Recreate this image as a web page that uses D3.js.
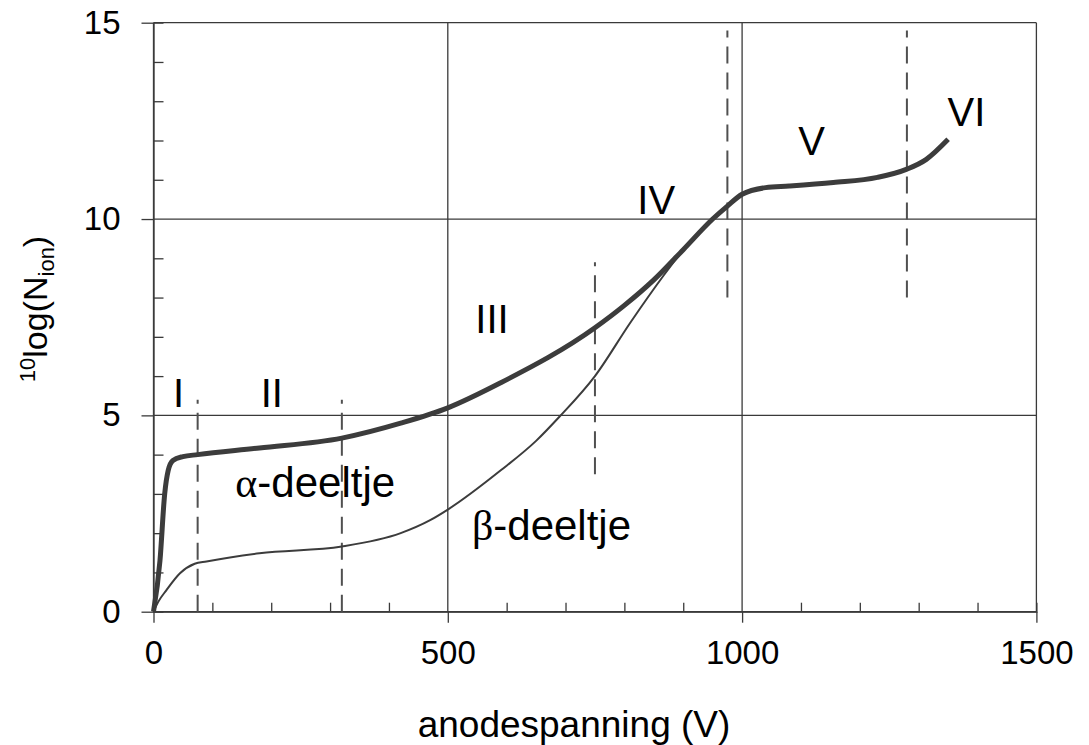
<!DOCTYPE html>
<html>
<head>
<meta charset="utf-8">
<script src="https://cdn.jsdelivr.net/npm/d3@7"></script>
<style>
  html, body { margin: 0; padding: 0; background: #fff; }
  svg { display: block; }
  text { font-family: "Liberation Sans", Arial, sans-serif; fill: #000; }
</style>
</head>
<body>
<svg id="chart" width="1089" height="745"></svg>
<script>
// ---- data ----
const xMajorTicks = [0, 500, 1000, 1500];
const xMinorTicks = [100, 200, 300, 400, 600, 700, 800, 900, 1100, 1200, 1300, 1400];
const yMajorTicks = [0, 5, 10, 15];
const yMinorTicks = [1, 2, 3, 4, 6, 7, 8, 9, 11, 12, 13, 14];

// alpha-particle curve (thick)
const alphaV = [0, 11, 19, 25, 33, 50, 75, 180, 320, 420, 500, 590, 750, 800, 850, 900, 950, 975, 1000, 1040, 1080, 1155, 1230, 1280, 1313, 1350];
const alphaN = [0, 1.3, 3.0, 3.6, 3.85, 3.95, 4.0, 4.17, 4.42, 4.8, 5.19, 5.83, 7.23, 7.8, 8.45, 9.22, 10.0, 10.33, 10.63, 10.8, 10.84, 10.93, 11.06, 11.27, 11.52, 12.03];

// beta-particle curve (thin)
const betaV = [0, 8, 22, 45, 70, 90, 180, 320, 420, 470, 500, 590, 650, 690, 750, 810, 866, 900];
const betaN = [0, 0.25, 0.55, 0.98, 1.22, 1.28, 1.49, 1.66, 2.0, 2.33, 2.6, 3.6, 4.35, 4.97, 6.0, 7.36, 8.55, 9.22];

// region boundaries (dashed): voltage, bottom, top
const boundV = [75, 320, 750, 975, 1280];
const boundLo = [0, 0, 3.5, 8.0, 8.0];
const boundHi = [5.4, 5.4, 8.9, 14.8, 14.8];

// region labels
const regionText = ["I", "II", "III", "IV", "V", "VI"];
const regionV = [42.5, 201, 575, 854, 1118, 1381];
const regionN = [5.22, 5.22, 7.09, 10.12, 11.63, 12.37];

// particle labels
const particleGreek = ["α", "β"];
const particleRest = ["-deeltje", "-deeltje"];
const particleV = [139, 541];
const particleN = [2.93, 1.83];

const xTitle = "anodespanning (V)";

// ---- layout ----
const svg = d3.select("#chart");
const L = 153.5, R = 1036.4, T = 22.7, B = 611.7;
const x = d3.scaleLinear().domain([0, 1500]).range([L, R]);
const y = d3.scaleLinear().domain([0, 15]).range([B, T]);
const gridColor = "#3a3a3a";

// gridlines (major)
svg.append("g").selectAll("line.h").data(yMajorTicks.filter(d => d > 0)).join("line")
  .attr("x1", L).attr("x2", R).attr("y1", d => y(d)).attr("y2", d => y(d))
  .attr("stroke", gridColor).attr("stroke-width", 1.3);
svg.append("g").selectAll("line.v").data(xMajorTicks.filter(d => d > 0)).join("line")
  .attr("y1", T).attr("y2", B).attr("x1", d => x(d)).attr("x2", d => x(d))
  .attr("stroke", gridColor).attr("stroke-width", 1.3);

// axes with major ticks & labels
const yAxis = svg.append("g").attr("transform", `translate(${L},0)`)
  .call(d3.axisLeft(y).tickValues(yMajorTicks).tickSize(12).tickPadding(21).tickFormat(d3.format("d")));
const xAxis = svg.append("g").attr("transform", `translate(0,${B})`)
  .call(d3.axisBottom(x).tickValues(xMajorTicks).tickSize(11).tickPadding(18).tickFormat(d3.format("d")));
// minor ticks inward
svg.append("g").attr("transform", `translate(${L},0)`)
  .call(d3.axisLeft(y).tickValues(yMinorTicks).tickSize(-10).tickFormat(""));
svg.append("g").attr("transform", `translate(0,${B})`)
  .call(d3.axisBottom(x).tickValues(xMinorTicks).tickSize(-9).tickFormat(""));

svg.selectAll(".domain").attr("stroke", gridColor).attr("stroke-width", 1.3);
svg.selectAll(".tick line").attr("stroke", gridColor).attr("stroke-width", 1.3);
svg.selectAll(".tick text").attr("font-size", 33).attr("font-family", "Liberation Sans, Arial, sans-serif").attr("fill", "#000");
yAxis.selectAll(".domain").remove();
xAxis.selectAll(".domain").remove();
svg.append("line").attr("x1", L).attr("x2", L).attr("y1", T).attr("y2", B).attr("stroke", gridColor).attr("stroke-width", 1.3);
svg.append("line").attr("x1", L).attr("x2", R).attr("y1", B).attr("y2", B).attr("stroke", gridColor).attr("stroke-width", 1.6);

// dashed boundaries
svg.append("g").selectAll("line").data(boundV).join("line")
  .attr("x1", d => x(d)).attr("x2", d => x(d))
  .attr("y1", (d, i) => y(boundLo[i])).attr("y2", (d, i) => y(boundHi[i]))
  .attr("stroke", "#505050").attr("stroke-width", 2).attr("stroke-dasharray", "17,9");

// curves
const line = d3.line().x(d => x(d[0])).y(d => y(d[1])).curve(d3.curveMonotoneX);
svg.append("path").datum(betaV.map((v, i) => [v, betaN[i]]))
  .attr("d", line).attr("fill", "none").attr("stroke", "#3c3c3c").attr("stroke-width", 2);
svg.append("path").datum(alphaV.map((v, i) => [v, alphaN[i]]))
  .attr("d", line).attr("fill", "none").attr("stroke", "#3c3c3c").attr("stroke-width", 5)
  .attr("stroke-linecap", "butt").attr("stroke-linejoin", "round");

// region labels
svg.append("g").selectAll("text").data(regionText).join("text")
  .attr("x", (d, i) => x(regionV[i])).attr("y", (d, i) => y(regionN[i]))
  .attr("text-anchor", "middle").attr("font-size", 40).text(d => d);

// particle labels
particleGreek.forEach((g, i) => {
  const t = svg.append("text").attr("x", x(particleV[i])).attr("y", y(particleN[i])).attr("font-size", 42);
  t.append("tspan").attr("font-family", "Liberation Serif, Times New Roman, serif").text(g);
  t.append("tspan").text(particleRest[i]);
});

// axis titles
svg.append("text").attr("x", 574).attr("y", 737).attr("text-anchor", "middle")
  .attr("font-size", 37).text(xTitle);

const yt = svg.append("text").attr("transform", "translate(47,309) rotate(-90)")
  .attr("text-anchor", "middle").attr("font-size", 34);
yt.append("tspan").attr("font-size", 22).attr("dy", -12).text("10");
yt.append("tspan").attr("dy", 12).text("log(N");
yt.append("tspan").attr("font-size", 22).attr("dy", 7).text("ion");
yt.append("tspan").attr("dy", -7).text(")");
</script>
</body>
</html>
